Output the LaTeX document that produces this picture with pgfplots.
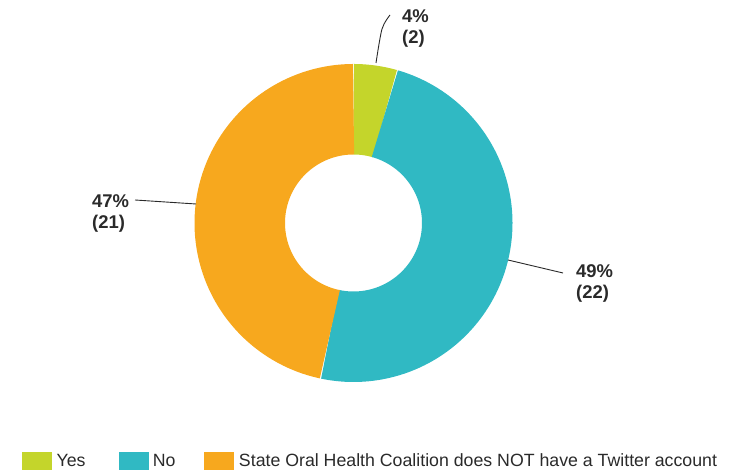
\documentclass[border=0pt]{standalone}
\usepackage{fontspec}
\setmainfont{Liberation Sans}
\usepackage{pgfplots}
\pgfplotsset{compat=1.18}
\definecolor{cyes}{HTML}{C4D52B}
\definecolor{cno}{HTML}{30B9C3}
\definecolor{cnot}{HTML}{F7A81E}
\definecolor{ctxt}{HTML}{2A2A2A}
% data: number of coalitions
\def\vYes{2}\def\vNo{22}\def\vNot{21}%
\pgfmathsetmacro\tot{\vYes+\vNo+\vNot}%
\pgfmathsetmacro\aA{90}%
\pgfmathsetmacro\aB{90-360*\vYes/\tot}%
\pgfmathsetmacro\aC{\aB-360*\vNo/\tot}%
\pgfmathsetmacro\aD{\aC-360*\vNot/\tot}%
\def\cx{353.5}\def\cy{249}\def\rmid{113.75}%
\begin{document}%
\begin{tikzpicture}
\begin{axis}[
  x=1bp, y=1bp, xmin=0, xmax=730, ymin=0, ymax=472,
  hide axis, clip=false,
  legend columns=3,
  legend style={draw=none, fill=none, at={(axis cs:22,11)}, anchor=west,
    font=\fontsize{17.8}{20}\selectfont, text=ctxt, inner sep=0pt,
    nodes={inner sep=0pt},
    /tikz/column 1/.style={column sep=5bp},
    /tikz/column 2/.style={column sep=33bp},
    /tikz/column 3/.style={column sep=5bp},
    /tikz/column 4/.style={column sep=28bp},
    /tikz/column 5/.style={column sep=6bp}},
  legend cell align=left,
]
\coordinate (bbSW) at (axis cs:0,0);
\coordinate (bbNE) at (axis cs:730,472);
\addplot[draw=cyes, line width=90.5bp, domain=\aB:\aA, samples=20, forget plot]
  ({\cx+\rmid*cos(x)},{\cy+\rmid*sin(x)});
\addplot[draw=cno, line width=90.5bp, domain=\aC:\aB, samples=120, forget plot]
  ({\cx+\rmid*cos(x)},{\cy+\rmid*sin(x)});
\addplot[draw=cnot, line width=90.5bp, domain=\aD:\aC, samples=120, forget plot]
  ({\cx+\rmid*cos(x)},{\cy+\rmid*sin(x)});
% leader lines
\addplot[ctxt, line width=0.9bp, smooth, forget plot] coordinates {(390,457) (382,443) (376,409)};
\addplot[ctxt, line width=0.9bp, forget plot] coordinates {(135,272) (196,268)};
\addplot[ctxt, line width=0.9bp, forget plot] coordinates {(508,212) (563,199)};
% labels
\node[anchor=north west, align=left, inner sep=0pt, text=ctxt,
  font=\fontsize{18.5}{22}\selectfont\bfseries] at (axis cs:402,463) {4\%\\(2)};
\node[anchor=north west, align=left, inner sep=0pt, text=ctxt,
  font=\fontsize{18.5}{22}\selectfont\bfseries] at (axis cs:92,278) {47\%\\(21)};
\node[anchor=north west, align=left, inner sep=0pt, text=ctxt,
  font=\fontsize{18.5}{22}\selectfont\bfseries] at (axis cs:576,208) {49\%\\(22)};
% legend
\addlegendimage{legend image code/.code={\fill[cyes] (0bp,-8.5bp) rectangle (29bp,8.5bp);}}
\addlegendentry{Yes}
\addlegendimage{legend image code/.code={\fill[cno] (0bp,-8.5bp) rectangle (29bp,8.5bp);}}
\addlegendentry{No}
\addlegendimage{legend image code/.code={\fill[cnot] (0bp,-8.5bp) rectangle (29bp,8.5bp);}}
\addlegendentry{State Oral Health Coalition does NOT have a Twitter account}
\end{axis}
\pgfresetboundingbox
\path (bbSW) rectangle (bbNE);
\end{tikzpicture}%
\end{document}
